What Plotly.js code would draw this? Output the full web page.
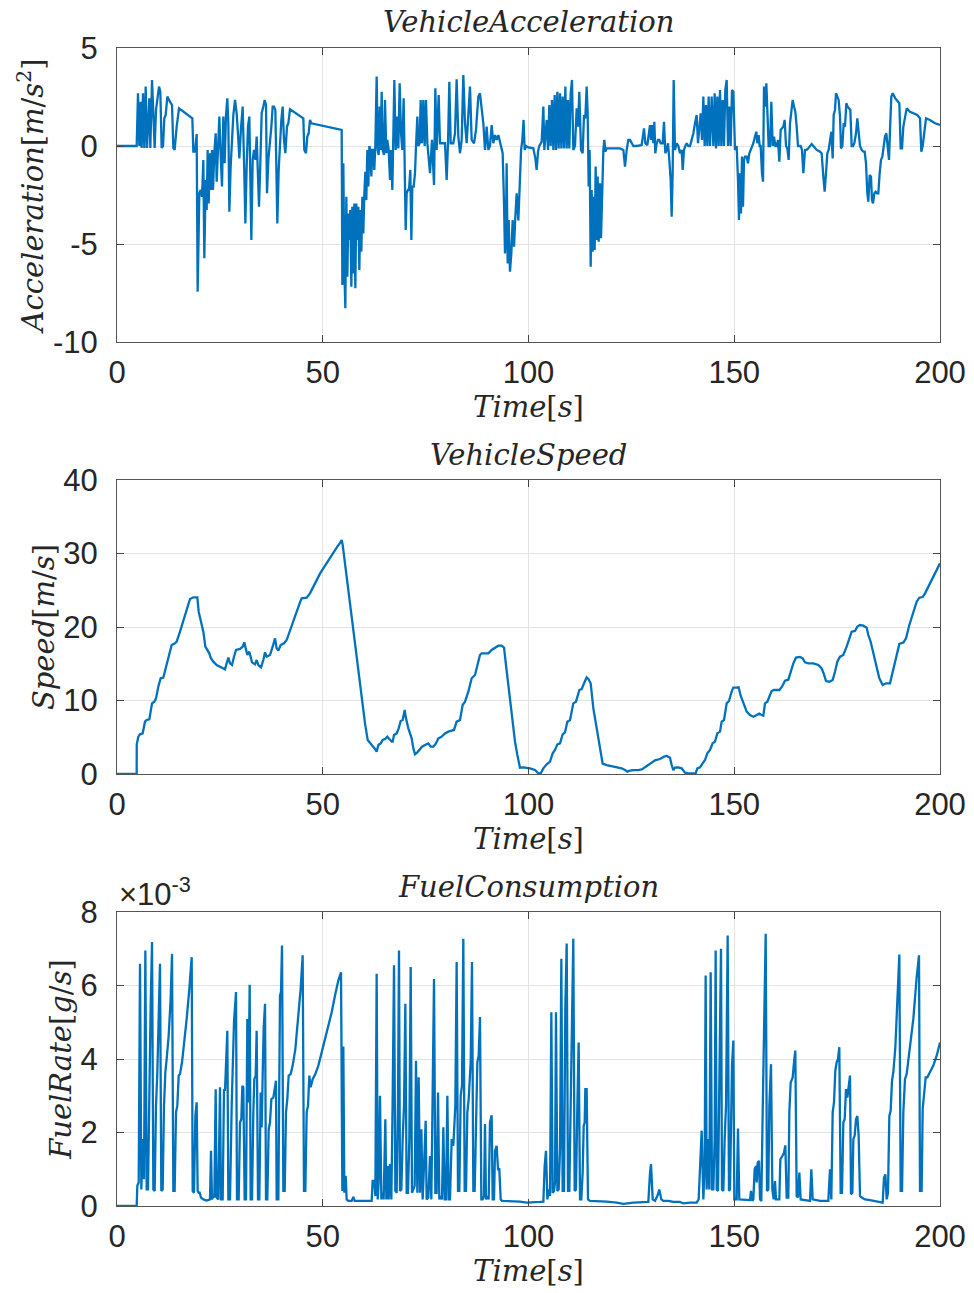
<!DOCTYPE html>
<html><head><meta charset="utf-8">
<script src="https://cdn.plot.ly/plotly-3.0.1.min.js"></script>
<style>html,body{margin:0;padding:0;background:#fff}#chart{width:974px;height:1293px}</style>
</head><body><div id="chart"></div>
<script>
// ---------- Vehicle acceleration [m/s^2] ----------
const accelTime = [
0, 4.78, 5.10, 5.43, 5.75, 5.99, 6.32, 6.64, 6.97, 7.29,
7.86, 8.10, 8.51, 8.83, 9.15, 9.48, 9.88, 10.21, 10.53, 10.85,
11.18, 11.50, 11.83, 12.23, 12.88, 13.37, 13.69, 14.01, 14.50, 15.07,
18.31, 18.55, 18.96, 19.36, 19.60, 20.01, 20.33, 20.66, 20.98, 21.22,
21.55, 21.79, 22.03, 22.28, 22.60, 22.84, 23.09, 23.33, 23.65, 23.98,
24.22, 24.54, 24.87, 25.27, 25.52, 25.84, 26.16, 26.49, 26.81, 27.06,
27.30, 27.62, 28.27, 28.68, 29.08, 29.49, 29.73, 30.13, 30.54, 30.94,
31.19, 31.51, 31.83, 32.16, 32.40, 32.65, 32.97, 33.29, 33.62, 33.94,
34.18, 34.51, 34.83, 35.16, 35.56, 35.89, 36.21, 36.45, 36.78, 37.18,
37.51, 37.83, 38.15, 38.48, 38.72, 38.96, 39.29, 39.61, 39.94, 40.26,
40.58, 40.91, 41.31, 41.64, 42.04, 45.28, 45.52, 45.93, 46.25, 46.58,
46.90, 47.23, 54.60, 54.76, 55.00, 55.25, 55.49, 55.73, 55.98, 56.22,
56.46, 56.70, 56.95, 57.19, 57.43, 57.68, 57.92, 58.16, 58.40, 58.65,
58.89, 59.13, 59.38, 59.62, 59.86, 60.11, 60.35, 60.59, 60.83, 61.08,
61.32, 61.56, 61.81, 62.05, 62.29, 62.53, 62.78, 63.10, 63.35, 63.59,
63.83, 64.07, 64.32, 64.56, 64.88, 65.13, 65.45, 65.69, 66.02, 66.34,
66.59, 66.91, 67.15, 67.40, 67.72, 68.13, 68.37, 68.69, 69.02, 69.34,
69.66, 69.91, 70.15, 70.39, 70.72, 70.96, 71.28, 71.53, 71.77, 72.09,
72.42, 72.66, 72.99, 73.23, 73.55, 73.79, 74.12, 74.44, 74.77, 75.09,
75.42, 76.06, 76.55, 77.04, 77.36, 77.68, 78.17, 78.49, 78.90, 79.30,
79.71, 80.11, 80.44, 80.76, 81.09, 81.73, 82.14, 82.54, 82.95, 83.35,
83.76, 84.16, 84.57, 84.97, 85.38, 85.78, 86.19, 86.76, 87.24, 87.81,
88.21, 88.62, 89.02, 89.43, 89.83, 90.24, 90.64, 91.05, 91.45, 91.86,
92.26, 92.67, 93.07, 93.72, 94.05, 94.29, 94.53, 94.69, 94.94, 95.18,
95.50, 95.83, 96.15, 96.48, 96.80, 97.12, 97.53, 97.93, 98.20, 98.50,
98.80,
99.07, 99.40, 99.96, 101.17, 101.66, 101.98, 102.31, 102.63, 103.20, 103.61,
103.85, 104.09, 104.42, 104.74, 105.06, 105.39, 105.71, 106.04, 106.36, 106.68,
107.01, 107.33, 107.66, 107.98, 108.30, 108.63, 108.95, 109.28, 109.60, 109.92,
110.25, 110.57, 110.89, 111.30, 111.70, 112.03, 112.35, 112.76, 113.16, 113.49,
113.81, 114.13, 114.38, 114.62, 114.86, 115.11, 115.35, 115.59, 115.84, 116.08,
116.32, 116.57, 116.81, 117.05, 117.38, 117.62, 117.86, 118.19, 118.43, 118.67,
119.00, 122.24, 123.05, 123.45, 123.86, 124.26, 124.67, 125.48, 126.29, 127.50,
128.07, 128.39, 128.88, 129.53, 129.77, 130.01, 130.34, 130.58, 130.82, 131.15,
131.47, 131.79, 132.12, 132.60, 132.93, 133.25, 133.58, 133.90, 134.22, 134.55,
134.79, 135.03, 135.28, 135.60, 136.01, 136.41, 136.82, 137.22, 137.47, 137.79,
138.11, 138.44, 138.84, 139.25, 139.65, 140.06, 140.46, 140.87, 141.19, 141.51,
141.84, 142.16, 142.49, 142.81, 143.13, 143.46, 143.78, 144.11, 144.51, 144.92,
145.24, 145.57, 145.89, 146.21, 146.54, 146.86, 147.19, 147.51, 147.83, 148.16,
148.48, 148.81, 149.13, 149.45, 149.78, 150.18, 150.59, 150.91, 151.15, 151.40,
151.64, 151.88, 152.13, 152.37, 152.61, 153.02, 153.34, 153.67, 153.99, 154.31,
154.64, 155.04, 155.37, 155.61, 155.93, 156.18, 156.42, 156.74, 156.99, 157.23,
157.55, 157.80, 158.04, 158.36, 158.69, 159.01, 159.34, 159.66, 159.98, 160.31,
160.63, 160.96, 161.28, 161.60, 161.93, 162.25, 162.58, 162.90, 163.22, 163.55,
163.87, 164.20, 164.52, 164.84, 165.17, 165.49, 165.82, 166.14, 166.46, 166.79,
167.19, 167.60, 168.00, 168.41, 168.81, 169.22, 170.03, 170.84, 171.24, 171.65,
171.97, 172.30, 172.62, 172.94, 173.27, 173.59, 173.92, 174.16, 174.48, 174.73,
175.05, 175.37, 175.70, 175.94, 176.27, 176.59, 176.91, 177.24, 177.56, 177.89,
178.21, 178.53, 178.86, 179.18, 179.59, 179.91, 180.23, 180.56, 180.96, 181.37,
181.69, 182.02, 182.34, 182.58, 182.91, 183.23, 183.47, 183.72, 184.04, 184.37,
184.69, 185.01, 185.34, 185.66, 185.99, 186.31, 186.63, 186.96, 187.28, 187.61,
187.85, 188.17, 188.50, 188.82, 189.15, 189.47, 189.79, 190.12, 190.44, 190.77,
191.09, 191.49, 191.90, 192.71, 193.52, 194.49, 195.14, 195.46, 195.79, 196.11,
196.60, 197.57, 198.78, 200.00
];
const accelValue = [
0, 0, 2.69, 0, 2.26, -0.1, 2.69, -0.1, 3.03, -0.1,
2.43, -0.1, 3.37, 2.01, -0.1, 1.84, 2.60, 3.03, 2.77, -0.1,
0, 1.41, 1.58, 2.52, 2.26, 2.09, -0.1, -0.2, 0.99, 1.92,
1.41, -0.29, -0.29, 0.61, -7.43, -2.41, -2.24, -2.59, -0.71, -5.73,
-1.73, -3.27, -0.2, -2.93, -0.37, -2.24, -0.2, -2.24, -0.37, 0.65,
-1.82, -0.37, 1.50, -0.88, -2.07, 1.50, -0.88, 1.58, 2.43, 1.16,
-3.35, -1.05, 1.58, 2.35, 1.67, 0.31, -0.63, 0.90, 2.01, -1.39,
-3.95, -1.05, 0.99, 1.50, -1.05, -4.80, -0.71, -0.2, -0.71, 0.48,
-1.05, -3.10, -0.88, 1.67, 2.01, 2.35, 2.09, -2.41, -0.71, 0.14,
0.99, 2.01, 2.01, 1.84, -1.39, -3.95, -1.22, 0.31, 1.33, 2.01,
0.31, -0.37, 0.99, 1.16, 1.87, 1.41, -0.2, -0.37, 0.48, 0.65,
1.33, 1.16, 0.82, -7.09, -0.88, -6.33, -8.28, -2.59, -6.67, -3.44,
-4.80, -3.27, -7.18, -3.10, -6.50, -2.93, -7.26, -2.93, -4.80, -3.10,
-6.33, -3.27, -5.39, -2.59, -4.46, -2.41, -1.31, -2.76, -0.2, -2.07,
0, -0.2, -1.56, -0.2, -0.2, -1.22, 0, 3.54, -0.2, -0.46,
2.01, -0.2, 2.77, -0.2, -0.46, 2.35, -0.37, 0.31, -0.2, -1.73,
-0.2, -2.24, -0.2, 3.37, -0.2, 1.50, -0.12, 3.20, 0.65, -0.2,
2.43, -0.2, -4.29, -2.41, -2.24, -2.24, -1.22, -4.80, -2.07, -2.07,
-1.39, 0, 1.50, 0, 0.14, 2.35, 0.14, 2.35, 0, 2.35,
0.14, -1.39, 0.31, -1.99, 2.94, -0.2, 2.60, 0.14, 0.14, 0.14,
0.14, -1.73, 0.14, 3.28, 0.14, 0.14, 0.65, 3.40, 0.48, -0.37,
0.31, 3.62, 1.16, 0.14, 2.01, 3.03, 0.31, 0.14, 0.82, 2.52,
2.69, 2.01, 1.16, -0.2, 0.99, -0.2, 0, 1.07, 0.14, 0.56,
0.31, 0.56, 0.14, -0.37, -2.93, -5.48, -4.12, -0.88, -5.99, -3.78,
-6.41, -5.48, -3.78, -5.14, -3.61, -2.41, -3.8, -2.0, -0.2, 0.3,
1.33,
-0.2, 0, -0.07, -0.12, -0.63, -1.22, -0.29, 0, 0.22, 2.01,
-0.2, 0.48, 1.33, -0.2, 2.09, 0, 2.35, -0.2, 2.60, -0.2,
2.77, -0.12, 2.69, -0.12, 2.52, -0.12, 3.03, -0.12, 2.35, -0.12,
2.69, 3.37, -0.2, 0, 1.92, 0.99, 2.77, -0.2, -0.37, 1.58,
1.41, 3.03, 1.67, -2.07, -0.2, -6.16, -2.24, -5.39, -2.59, -5.31,
-1.05, -4.80, -1.56, -4.88, -1.90, -4.71, -2.76, -0.2, 0.31, -0.29,
-0.12, -0.12, -0.2, -1.05, -0.2, 0.31, 0.31, 0, 0, 0.05,
0.90, 0.14, 0.05, 1.07, 0.31, 1.07, 0.14, 1.24, -0.37, 0.14,
0.31, 0.31, 0.14, 0.14, 1.24, -0.37, -0.2, 0.14, -0.71, -1.73,
-3.61, -1.39, 3.37, -0.2, 0.14, 0, -0.37, -0.2, -1.22, -0.2,
0, 0.14, 0, 0, 0.31, 0.65, 1.16, 1.58, 0.14, 0.90,
1.67, 0.31, 2.52, 0, 2.09, 0, 2.52, 0, 2.52, 0,
2.69, -0.12, 2.52, 0, 2.86, 0, 2.35, 0, 2.86, 3.37,
0, 2.01, 0, 2.86, 2.77, -0.2, 0, -1.73, -3.78, -1.39,
-3.44, -0.54, -3.10, -0.71, -0.54, -0.54, -0.88, -0.37, -0.2, 0,
0.14, 0.48, 0.73, 0.14, 0.56, 0, 0, -1.39, -1.82, 3.03,
2.01, 3.20, 2.01, 0, 0, 2.26, 0, 0.48, 0, 0,
0.31, -0.80, 0.82, 0.90, 0.99, 1.33, 0, -0.12, -0.71, 1.16,
1.67, 2.35, 2.01, 1.75, 0.99, 0, 0, 0, -0.2, -1.39,
-0.2, -0.2, -0.12, 0, 0.10, 0, -0.2, -0.29, -0.37, -1.56,
-2.33, -1.39, -0.37, -0.2, 0.31, 0.73, -0.63, 1.58, 1.84, 2.69,
2.52, 2.35, 1.50, -0.12, 0, 1.16, 0.99, 2.18, 2.01, 1.92,
1.84, 0, 0, 0.14, 0.65, 1.41, 0.65, 0, -0.2, -0.29,
-0.29, -0.88, -2.41, -2.84, -1.48, -1.56, -2.76, -2.93, -2.41, -2.33,
-2.41, -2.41, -1.39, -0.71, -0.54, 0, 0.48, 0.65, 0, -0.71,
0.82, 2.52, 2.69, 2.52, 2.43, 2.35, 2.26, 2.18, -0.12, -0.12,
0.99, 1.50, 1.92, 1.75, 1.67, 1.58, 1.41, -0.29, 0, 0.65,
1.41, 1.33, 1.16, 1.07
];

// ---------- Vehicle speed [m/s] ----------
const speedTime = [
0, 4.78, 4.80, 5.18, 5.59, 6.24, 6.80, 7.21, 7.86, 8.51,
9.07, 9.48, 10.04, 10.61, 11.26, 11.66, 12.07, 12.72, 13.28, 14.09,
14.50, 15.31, 16.12, 16.93, 17.74, 18.55, 19.52, 19.85, 20.33, 20.98,
21.47, 21.95, 22.44, 22.76, 23.41, 24.22, 25.03, 25.68, 26.25, 26.65,
27.06, 27.46, 27.95, 28.43, 28.92, 29.89, 30.54, 30.94, 31.35, 31.67,
32.16, 32.48, 32.81, 33.54, 33.94, 34.35, 35.00, 35.56, 35.97, 36.37,
37.18, 37.83, 38.40, 38.80, 39.21, 39.77, 40.58, 41.23, 42.04, 42.85,
43.66, 44.47, 44.88, 46.09, 46.90, 47.71, 48.52, 49.33, 50.14, 50.95,
51.76, 52.57, 53.38, 54.19, 54.60, 54.84, 55.25, 55.81, 56.46, 57.03,
57.84, 58.65, 59.46, 60.27, 60.92, 61.48, 62.05, 62.70, 63.10, 63.51,
64.07, 64.56, 65.13, 65.69, 66.18, 66.75, 66.99, 67.32, 67.96, 68.45,
68.94, 69.42, 69.91, 70.23, 70.80, 71.61, 72.01, 72.42, 72.99, 73.63,
74.12, 74.85, 75.66, 76.23, 76.87, 77.52, 78.09, 78.90, 79.71, 80.52,
81.33, 81.89, 82.54, 83.35, 84.00, 84.57, 85.38, 86.19, 87.00, 87.40,
88.21, 88.62, 89.43, 90.24, 91.05, 91.86, 92.67, 93.48, 94.05, 94.53,
95.10, 95.91, 96.72, 97.29, 97.93, 98.74, 99.55, 100.36, 101.58, 102.39,
102.96, 103.61, 104.42, 105.23, 105.87, 106.44, 107.01, 107.66, 108.30, 108.87,
109.44, 110.09, 110.89, 111.54, 112.35, 112.92, 113.73, 114.13, 114.54, 115.11,
115.76, 116.57, 117.38, 118.02, 119.00, 120.21, 121.43, 122.65, 123.45, 124.02,
124.67, 125.48, 126.69, 127.50, 128.31, 129.12, 129.93, 130.74, 131.95, 132.93,
133.58, 134.39, 134.79, 135.20, 135.60, 136.41, 137.22, 138.03, 138.84, 140.06,
140.62, 141.03, 141.68, 142.32, 142.89, 143.46, 144.11, 144.75, 145.32, 145.89,
146.54, 146.94, 147.51, 148.16, 148.72, 149.37, 149.78, 150.59, 151.07, 151.56,
152.21, 153.02, 153.83, 154.64, 155.45, 156.09, 156.66, 157.07, 157.47, 158.04,
158.69, 159.09, 159.66, 160.31, 160.96, 161.60, 162.33, 163.14, 163.71, 164.36,
165.01, 165.98, 166.63, 167.19, 168.00, 169.22, 170.43, 171.24, 171.81, 172.30,
173.11, 173.92, 174.48, 175.05, 175.70, 176.51, 177.32, 177.97, 178.53, 179.34,
179.91, 180.56, 181.37, 182.18, 182.58, 183.15, 183.80, 184.45, 185.26, 186.07,
186.88, 187.85, 188.50, 189.31, 190.12, 191.09, 191.74, 192.55, 193.52, 194.33,
194.98, 195.79, 196.36, 197.17, 198.38, 199.60, 200.00
];
const speedValue = [
0, 0, 4.04, 5.08, 5.40, 5.53, 7.12, 7.35, 7.44, 9.61,
9.84, 10.29, 11.88, 13.02, 13.11, 13.92, 15.06, 16.42, 17.55, 17.78,
18.00, 19.37, 20.95, 22.54, 23.81, 24.04, 24.04, 22.09, 20.73, 19.37,
17.32, 16.87, 16.42, 15.83, 15.28, 14.83, 14.60, 14.47, 14.24, 15.06,
15.83, 15.06, 14.83, 15.96, 16.87, 17.01, 17.32, 17.91, 16.64, 16.19,
16.64, 15.96, 15.19, 14.92, 15.51, 14.83, 14.51, 15.51, 16.55, 15.96,
16.19, 17.32, 18.46, 17.10, 16.78, 17.55, 17.78, 18.23, 19.59, 20.95,
22.31, 23.36, 23.90, 23.99, 24.58, 25.49, 26.39, 27.26, 27.98, 28.71,
29.43, 30.16, 30.79, 31.43, 31.84, 31.16, 29.34, 26.62, 23.90, 20.73,
17.10, 13.47, 9.84, 6.89, 4.63, 4.17, 3.85, 3.40, 3.04, 3.95,
4.17, 4.63, 4.76, 5.08, 4.76, 4.40, 4.40, 5.31, 5.53, 6.21,
7.21, 7.35, 8.71, 7.57, 6.21, 4.85, 3.49, 2.68, 2.95, 3.49,
3.72, 3.95, 4.17, 3.72, 3.72, 4.17, 4.85, 5.08, 5.53, 5.76,
5.85, 5.99, 7.12, 7.35, 9.39, 9.84, 11.20, 13.02, 13.47, 14.38,
16.19, 16.42, 16.42, 16.42, 16.87, 17.19, 17.46, 17.46, 17.19, 14.83,
12.11, 8.93, 4.40, 2.59, 0.86, 0.91, 0.86, 0.77, 0.54, 0.09,
0.09, 0.77, 1.32, 1.68, 2.81, 3.27, 4.04, 4.17, 5.40, 5.67,
7.12, 7.35, 9.61, 9.84, 11.43, 11.56, 12.65, 13.15, 12.93, 12.34,
8.93, 6.21, 3.04, 1.41, 1.22, 1.09, 0.95, 0.77, 0.54, 0.32,
0.45, 0.54, 0.54, 0.63, 0.91, 1.22, 1.54, 1.86, 2.04, 2.36,
2.45, 2.22, 1.22, 0.54, 0.86, 0.91, 0.77, 0.18, 0.09, 0.09,
0.09, 0.77, 0.91, 1.45, 1.90, 2.81, 3.27, 4.17, 4.40, 5.53,
5.76, 7.12, 7.35, 9.61, 9.93, 11.20, 11.75, 11.75, 11.79, 10.66,
9.61, 8.48, 8.03, 7.80, 8.03, 8.21, 8.03, 7.94, 9.61, 9.84,
10.75, 11.29, 11.43, 11.43, 11.43, 11.88, 12.70, 12.83, 13.83, 15.06,
15.83, 15.92, 15.74, 15.19, 15.06, 15.06, 14.83, 14.38, 13.56, 12.65,
12.56, 12.79, 13.92, 15.28, 15.96, 16.19, 17.32, 18.55, 19.37, 19.46,
20.05, 20.27, 20.18, 19.91, 18.91, 18.00, 16.42, 14.83, 13.02, 12.11,
12.34, 12.34, 13.92, 15.96, 17.69, 17.87, 18.46, 20.27, 22.09, 23.45,
23.99, 24.08, 24.58, 25.49, 26.94, 28.34, 28.66
];

// ---------- Fuel rate [g/s], in units of 1e-3 ----------
const fuelTime = [
0, 4.78, 4.94, 5.27, 5.59, 5.91, 6.24, 6.56, 6.89, 7.21,
7.53, 7.86, 8.18, 8.51, 8.83, 9.15, 9.48, 9.80, 10.13, 10.45,
10.77, 11.10, 11.42, 11.75, 12.07, 12.56, 13.04, 13.37, 13.69, 14.01,
14.34, 14.66, 14.99, 15.31, 15.80, 16.28, 16.93, 17.58, 18.15, 18.39,
18.71, 19.04, 19.36, 19.60, 19.85, 20.09, 20.41, 20.98, 21.79, 22.60,
22.84, 23.09, 23.41, 23.65, 23.98, 24.22, 24.63, 25.03, 25.27, 25.68,
26.00, 26.25, 26.57, 26.81, 27.06, 27.46, 27.87, 28.11, 28.43, 28.92,
29.16, 29.57, 29.89, 30.21, 30.46, 30.70, 31.02, 31.35, 31.67, 31.92,
32.24, 32.48, 32.81, 33.13, 33.37, 33.70, 33.94, 34.27, 34.59, 34.91,
35.16, 35.40, 35.64, 35.97, 36.21, 36.53, 36.86, 37.18, 37.51, 37.99,
38.32, 38.64, 38.80, 39.21, 39.61, 39.85, 40.10, 40.42, 40.75, 41.07,
41.39, 41.72, 42.20, 42.69, 43.34, 43.99, 44.63, 45.12, 45.44, 45.77,
46.09, 46.42, 46.74, 47.06, 47.55, 48.20, 48.93, 49.74, 50.55, 51.36,
52.17, 52.98, 53.79, 54.44, 54.76, 55.00, 55.25, 55.57, 55.81, 56.22,
57.03, 57.43, 57.76, 59.86, 61.89, 62.13, 62.54, 62.78, 63.10, 63.35,
63.59, 63.91, 64.24, 64.56, 64.80, 65.21, 65.45, 65.78, 66.02, 66.34,
66.67, 66.99, 67.32, 67.64, 67.96, 68.29, 68.53, 68.77, 69.10, 69.42,
69.75, 70.07, 70.39, 70.72, 71.04, 71.37, 71.69, 72.01, 72.34, 72.66,
72.99, 73.31, 73.63, 73.96, 74.28, 74.61, 75.01, 75.25, 75.66, 76.06,
76.39, 76.71, 77.04, 77.36, 77.68, 78.01, 78.33, 78.66, 78.98, 79.30,
79.63, 79.95, 80.28, 80.60, 80.92, 81.33, 81.73, 82.22, 82.54, 82.87,
83.19, 83.52, 83.84, 84.16, 84.49, 84.81, 85.14, 85.46, 85.95, 86.27,
86.59, 86.92, 87.24, 87.57, 87.89, 88.21, 88.54, 88.86, 89.18, 89.43,
89.67, 89.99, 90.32, 90.64, 91.05, 91.29, 91.62, 91.86, 92.26, 92.59,
92.91, 93.24, 93.56, 95.50, 97.93,
99.56, 101.17, 102.79, 103.61, 103.93, 104.25, 104.58, 104.90, 105.23, 105.55,
105.87, 106.20, 106.44, 106.68, 107.01, 107.33, 107.66, 107.98, 108.30, 108.63,
108.95, 109.28, 109.60, 109.92, 110.25, 110.57, 110.89, 111.22, 111.54, 111.87,
112.19, 112.52, 112.84, 113.16, 113.41, 113.65, 113.81, 114.13, 114.46, 114.94,
116.57, 119.00, 121.43, 123.05, 125.48, 127.91, 129.12, 129.53, 129.77, 130.18,
130.74, 131.31, 131.79, 132.28, 132.77, 133.98, 135.20, 136.82, 137.63, 139.25,
140.87, 141.35, 141.68, 142.08, 142.49, 142.81, 143.05, 143.30, 143.62, 143.94,
144.27, 144.59, 144.92, 145.24, 145.48, 145.73, 146.05, 146.37, 146.78, 147.02,
147.35, 147.67, 148.00, 148.40, 148.72, 148.97, 149.21, 149.45, 149.78, 150.02,
150.59, 150.91, 151.23, 151.80, 153.83, 154.07, 154.40, 154.64, 154.96, 155.29,
155.45, 155.69, 156.01, 156.26, 156.58, 156.91, 157.23, 157.64, 157.96, 158.28,
158.53, 158.93, 159.26, 159.58, 159.90, 160.15, 160.96, 161.20, 161.69, 162.09,
162.41, 162.74, 163.14, 163.39, 163.71, 164.20, 164.52, 164.84, 165.17, 165.49,
165.82, 166.14, 168.41, 168.73, 169.06, 170.84, 172.86, 173.27, 173.59, 173.92,
174.24, 174.56, 174.89, 175.21, 175.53, 175.86, 176.18, 176.51, 176.83, 177.16,
177.48, 177.81, 178.13, 178.37, 178.70, 178.94, 179.26, 179.59, 179.91, 180.23,
180.56, 180.96, 181.77, 182.99, 184.20, 185.42, 186.07, 186.39, 186.72, 187.04,
187.36, 187.69, 188.01, 188.34, 188.66, 189.15, 189.63, 190.12, 190.44, 190.77,
191.09, 191.49, 191.90, 192.71, 193.52, 194.33, 194.90, 195.14, 195.54, 195.79,
196.19, 196.52, 196.92, 197.57, 198.38, 199.19, 200.00
];
const fuelValue = [
0, 0, 0.55, 0.64, 6.59, 0.45, 1.82, 0.73, 6.95, 0.45,
0.45, 3.64, 5.45, 7.18, 0.45, 0.41, 2.73, 3.64, 5.27, 6.59,
0.41, 0.45, 2.73, 3.64, 4.00, 4.64, 5.64, 6.86, 0.41, 0.41,
2.55, 2.73, 3.55, 3.59, 3.91, 4.36, 5.09, 5.91, 6.77, 0.41,
0.36, 2.45, 2.82, 0.41, 0.36, 0.36, 0.23, 0.18, 0.15, 0.18,
1.50, 0.18, 0.27, 0.23, 3.18, 0.23, 0.18, 3.23, 0.18, 0.18,
3.18, 3.14, 4.45, 4.77, 0.18, 0.18, 2.73, 3.73, 5.00, 5.82,
0.18, 0.18, 2.27, 2.36, 3.27, 3.23, 0.18, 0.18, 5.09, 2.82,
6.02, 0.18, 0.18, 2.55, 3.45, 3.55, 4.77, 0.18, 0.18, 3.09,
2.14, 3.55, 4.82, 5.50, 0.18, 0.18, 2.09, 2.27, 2.91, 2.95,
3.18, 3.41, 0.18, 0.18, 5.73, 5.82, 7.09, 0.41, 0.41, 2.55,
2.91, 3.55, 3.59, 3.82, 4.27, 5.09, 5.91, 6.82, 0.41, 0.41,
2.55, 2.73, 3.55, 3.23, 3.45, 3.59, 3.82, 4.18, 4.55, 4.86,
5.27, 5.73, 6.14, 6.36, 0.41, 4.34, 0.36, 0.82, 0.18, 0.14,
0.14, 0.25, 0.14, 0.14, 0.14, 0.68, 0.68, 0.27, 6.32, 0.18,
0.64, 3.00, 0.18, 0.36, 0.18, 2.36, 0.18, 1.09, 0.18, 1.14,
0.18, 2.91, 6.55, 0.41, 0.36, 2.91, 6.95, 0.41, 0.45, 1.82,
2.73, 5.50, 0.36, 0.36, 1.82, 6.50, 0.36, 0.45, 0.55, 3.95,
0.36, 3.50, 0.36, 2.09, 0.18, 1.09, 2.32, 0.18, 0.23, 1.36,
0.18, 3.09, 6.18, 0.36, 0.36, 3.09, 0.18, 0.27, 0.18, 2.14,
0.18, 0.18, 3.00, 0.18, 0.18, 1.82, 1.64, 2.73, 6.64, 0.41,
0.41, 3.00, 3.27, 7.27, 0.41, 0.41, 2.55, 2.91, 3.91, 6.64,
0.41, 0.41, 2.55, 3.91, 4.09, 5.14, 0.18, 0.18, 0.27, 2.23,
0.18, 0.27, 0.18, 2.27, 2.47, 0.18, 0.18, 1.50, 1.64, 1.00,
1.00, 0.18, 0.14, 0.14, 0.12,
0.09, 0.09, 0.11, 0.12, 1.09, 1.50, 0.18, 0.45, 0.27, 5.27,
0.36, 0.41, 0.64, 5.27, 0.41, 0.45, 1.55, 6.73, 0.41, 0.41,
5.45, 7.14, 0.41, 0.41, 2.73, 4.55, 7.27, 0.41, 0.45, 2.73,
4.45, 0.18, 0.18, 0.91, 2.18, 2.27, 3.18, 3.18, 0.18, 0.14,
0.14, 0.12, 0.09, 0.06, 0.09, 0.11, 0.11, 0.91, 1.14, 0.18,
0.14, 0.27, 0.45, 0.18, 0.14, 0.14, 0.11, 0.11, 0.07, 0.09,
0.09, 0.18, 1.09, 2.05, 0.18, 1.09, 6.27, 0.45, 1.82, 0.45,
6.36, 0.45, 0.45, 1.82, 6.95, 0.45, 0.41, 2.73, 7.00, 0.45,
0.41, 1.82, 2.73, 7.36, 0.41, 0.45, 2.73, 3.82, 4.50, 0.18,
0.18, 2.11, 0.18, 0.18, 0.16, 0.41, 0.14, 0.18, 1.00, 1.09,
0.64, 1.18, 1.23, 0.18, 0.14, 2.55, 4.55, 7.41, 0.41, 0.45,
2.73, 3.86, 0.45, 0.18, 0.68, 0.18, 0.18, 1.27, 1.36, 1.45,
1.65, 0.23, 0.23, 2.55, 3.36, 3.50, 3.91, 4.23, 0.27, 0.23,
0.91, 0.18, 0.14, 1.00, 0.18, 0.14, 0.14, 1.00, 0.18, 2.55,
2.82, 3.68, 3.91, 4.00, 4.32, 0.36, 0.36, 2.27, 2.36, 3.18,
2.95, 3.36, 3.55, 0.32, 0.36, 1.82, 1.91, 2.36, 2.45, 1.91,
0.27, 0.23, 0.18, 0.16, 0.14, 0.11, 0.09, 0.77, 0.86, 0.18,
0.36, 2.45, 2.59, 3.41, 3.64, 4.32, 5.64, 6.84, 0.41, 0.41,
2.55, 3.45, 3.59, 4.27, 5.09, 6.23, 6.82, 0.41, 0.41, 2.64,
3.09, 3.50, 3.50, 3.64, 3.82, 4.09, 4.45
];

// ---------- tick labels / titles ----------
const timeTicks = [0, 50, 100, 150, 200];
const accelTicks = [-10, -5, 0, 5];
const accelTickText = ['-10', '-5', '0', '5'];
const speedTicks = [0, 10, 20, 30, 40];
const fuelTicks = [0, 2, 4, 6, 8];
const panelTitles = ['<i>VehicleAcceleration</i>', '<i>VehicleSpeed</i>', '<i>FuelConsumption</i>'];
const yTitles = ['<i>Acceleration</i>[<i>m</i>/<i>s</i><sup>2</sup>]', '<i>Speed</i>[<i>m</i>/<i>s</i>]', '<i>FuelRate</i>[<i>g</i>/<i>s</i>]'];
const xTitle = '<i>Time</i>[<i>s</i>]';
const fuelExponent = '×10<sup>-3</sup>';

const lineColor = '#0072BD';
const tickFont = {family: 'Liberation Sans, Arial, sans-serif', size: 31, color: '#262626'};
const texFont = {family: 'DejaVu Serif, serif', size: 29, color: '#262626'};

function xAxis(anchor) {
  return {
    anchor: anchor, domain: [0, 1], range: [0, 200], tickvals: timeTicks,
    ticks: 'inside', ticklen: 7, tickcolor: '#444', tickwidth: 1,
    showline: true, linecolor: '#555', linewidth: 1, mirror: 'ticks',
    showgrid: true, gridcolor: '#e3e3e3', gridwidth: 1, zeroline: false,
    tickfont: tickFont, ticklabelstandoff: 3,
    title: {text: xTitle, font: texFont, standoff: 7}
  };
}
function yAxis(anchor, domain, range, ticks, tickText, title, standoff) {
  return {
    anchor: anchor, domain: domain, range: range, tickvals: ticks, ticktext: tickText,
    ticks: 'inside', ticklen: 7, tickcolor: '#444', tickwidth: 1,
    showline: true, linecolor: '#555', linewidth: 1, mirror: 'ticks',
    showgrid: true, gridcolor: '#e3e3e3', gridwidth: 1, zeroline: false,
    tickfont: tickFont, ticklabelstandoff: 12,
    title: {text: title, font: texFont, standoff: standoff}
  };
}

const H = 1293;
const dTop = [1 - 342 / H, 1 - 48 / H];
const dMid = [1 - 774 / H, 1 - 480 / H];
const dBot = [1 - 1206 / H, 1 - 912 / H];

const traces = [
  {x: accelTime, y: accelValue, xaxis: 'x', yaxis: 'y', type: 'scatter', mode: 'lines', line: {color: lineColor, width: 2.3}},
  {x: speedTime, y: speedValue, xaxis: 'x2', yaxis: 'y2', type: 'scatter', mode: 'lines', line: {color: lineColor, width: 2.3}},
  {x: fuelTime, y: fuelValue, xaxis: 'x3', yaxis: 'y3', type: 'scatter', mode: 'lines', line: {color: lineColor, width: 2.3}}
];

const layout = {
  width: 974, height: 1293,
  margin: {l: 117, r: 34, t: 0, b: 0},
  paper_bgcolor: '#ffffff', plot_bgcolor: '#ffffff',
  showlegend: false,
  xaxis: xAxis('y'), xaxis2: xAxis('y2'), xaxis3: xAxis('y3'),
  yaxis: yAxis('x', dTop, [-10, 5], accelTicks, accelTickText, yTitles[0], 0),
  yaxis2: yAxis('x2', dMid, [0, 40], speedTicks, speedTicks.map(String), yTitles[1], 0),
  yaxis3: yAxis('x3', dBot, [0, 8], fuelTicks, fuelTicks.map(String), yTitles[2], 0),
  annotations: [
    {text: panelTitles[0], xref: 'paper', yref: 'paper', x: 0.5, y: 1 - 22 / H, xanchor: 'center', yanchor: 'middle', showarrow: false, font: texFont},
    {text: panelTitles[1], xref: 'paper', yref: 'paper', x: 0.5, y: 1 - 455 / H, xanchor: 'center', yanchor: 'middle', showarrow: false, font: texFont},
    {text: panelTitles[2], xref: 'paper', yref: 'paper', x: 0.5, y: 1 - 887 / H, xanchor: 'center', yanchor: 'middle', showarrow: false, font: texFont},
    {text: fuelExponent, xref: 'paper', yref: 'paper', x: 0.0, y: 1 - 892 / H, xanchor: 'left', yanchor: 'middle', showarrow: false, font: tickFont}
  ]
};

Plotly.newPlot('chart', traces, layout, {displayModeBar: false, staticPlot: true});
</script>
</body></html>
